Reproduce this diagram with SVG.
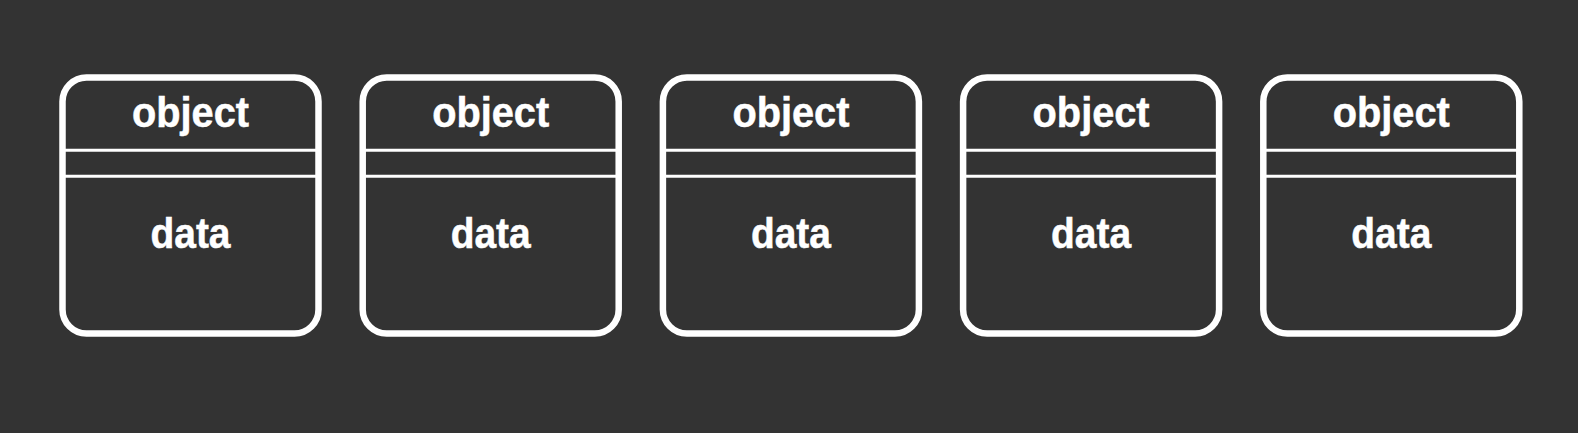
<svg xmlns="http://www.w3.org/2000/svg" width="1578" height="433" viewBox="0 0 1578 433">
<style>
.box{fill:#333333;stroke:#ffffff;stroke-width:6.5}
.sep{stroke:#ffffff;stroke-width:3}
.t{font-family:"Liberation Sans",Arial,sans-serif;font-weight:700;font-size:42px;fill:#ffffff;stroke:#ffffff;stroke-width:0.5;text-anchor:middle}
</style>
<rect width="1578" height="433" fill="#333333"/>
<g id="node1">
<rect class="box" x="62.5" y="77.5" width="256" height="256" rx="24"/>
<line class="sep" x1="62.5" y1="150.3" x2="318.5" y2="150.3"/>
<line class="sep" x1="62.5" y1="176.2" x2="318.5" y2="176.2"/>
<text class="t" x="190.5" y="126.5" textLength="117" lengthAdjust="spacingAndGlyphs">object</text>
<text class="t" x="190.5" y="247.5" textLength="80" lengthAdjust="spacingAndGlyphs">data</text>
</g>
<g id="node2">
<rect class="box" x="362.7" y="77.5" width="256" height="256" rx="24"/>
<line class="sep" x1="362.7" y1="150.3" x2="618.7" y2="150.3"/>
<line class="sep" x1="362.7" y1="176.2" x2="618.7" y2="176.2"/>
<text class="t" x="490.7" y="126.5" textLength="117" lengthAdjust="spacingAndGlyphs">object</text>
<text class="t" x="490.7" y="247.5" textLength="80" lengthAdjust="spacingAndGlyphs">data</text>
</g>
<g id="node3">
<rect class="box" x="662.9" y="77.5" width="256" height="256" rx="24"/>
<line class="sep" x1="662.9" y1="150.3" x2="918.9" y2="150.3"/>
<line class="sep" x1="662.9" y1="176.2" x2="918.9" y2="176.2"/>
<text class="t" x="790.9" y="126.5" textLength="117" lengthAdjust="spacingAndGlyphs">object</text>
<text class="t" x="790.9" y="247.5" textLength="80" lengthAdjust="spacingAndGlyphs">data</text>
</g>
<g id="node4">
<rect class="box" x="963.1" y="77.5" width="256" height="256" rx="24"/>
<line class="sep" x1="963.1" y1="150.3" x2="1219.1" y2="150.3"/>
<line class="sep" x1="963.1" y1="176.2" x2="1219.1" y2="176.2"/>
<text class="t" x="1091.1" y="126.5" textLength="117" lengthAdjust="spacingAndGlyphs">object</text>
<text class="t" x="1091.1" y="247.5" textLength="80" lengthAdjust="spacingAndGlyphs">data</text>
</g>
<g id="node5">
<rect class="box" x="1263.3" y="77.5" width="256" height="256" rx="24"/>
<line class="sep" x1="1263.3" y1="150.3" x2="1519.3" y2="150.3"/>
<line class="sep" x1="1263.3" y1="176.2" x2="1519.3" y2="176.2"/>
<text class="t" x="1391.3" y="126.5" textLength="117" lengthAdjust="spacingAndGlyphs">object</text>
<text class="t" x="1391.3" y="247.5" textLength="80" lengthAdjust="spacingAndGlyphs">data</text>
</g>
<g id="connectors"></g>
</svg>
